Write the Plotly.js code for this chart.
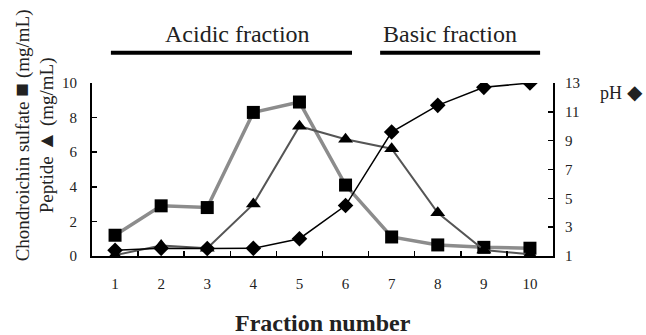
<!DOCTYPE html>
<html><head><meta charset="utf-8">
<script src="https://cdn.plot.ly/plotly-3.0.1.min.js"></script>
<style>html,body{margin:0;padding:0;background:#fff}</style>
</head><body><div id="chart" style="width:646px;height:335px"></div>
<script>
const fractions = [1,2,3,4,5,6,7,8,9,10];
const tickLabels = ['1','2','3','4','5','6','7','8','9','10'];
const chondroitin = [1.2, 2.9, 2.8, 8.3, 8.9, 4.1, 1.1, 0.64, 0.5, 0.45];
const peptide = [0.05, 0.6, 0.45, 3.0, 7.5, 6.75, 6.2, 2.5, 0.35, 0.1];
const pH = [1.4, 1.53, 1.52, 1.53, 2.2, 4.5, 9.6, 11.45, 12.7, 13.0];
const leftTicks = [0,2,4,6,8,10];
const rightTicks = [1,3,5,7,9,11,13];

const font = 'Liberation Serif, Times New Roman, serif';
const traces = [
  {x: fractions, y: chondroitin, mode:'lines+markers', name:'Chondroitin sulfate',
   line:{color:'#8c8c8c', width:3.5}, marker:{symbol:'square', size:13, color:'#000'}},
  {x: fractions, y: peptide, mode:'lines+markers', name:'Peptide',
   line:{color:'#555', width:2}, marker:{symbol:'triangle-up', size:13, color:'#000'}},
  {x: fractions, y: pH, mode:'lines+markers', name:'pH', yaxis:'y2',
   line:{color:'#000', width:1.5}, marker:{symbol:'diamond', size:12, color:'#000'}}
];
const layout = {
  width:646, height:335, showlegend:false,
  margin:{l:92, r:93, t:83, b:79},
  paper_bgcolor:'#fff', plot_bgcolor:'#fff',
  font:{family:font, size:15, color:'#222'},
  xaxis:{range:[0.5,10.5], tickmode:'array', tickvals:fractions, ticktext:tickLabels,
    ticks:'', showline:true, linecolor:'#000', linewidth:2, showgrid:false, zeroline:false,
    ticklabelstandoff:13,
    minor:{tickmode:'array', tickvals:[1.5,2.5,3.5,4.5,5.5,6.5,7.5,8.5,9.5], ticks:'inside', ticklen:5, tickwidth:1.5, tickcolor:'#000', showgrid:false}},
  yaxis:{range:[0,10], tickmode:'array', tickvals:leftTicks, ticks:'inside', ticklen:5, tickwidth:1.5,
    tickcolor:'#000', showline:true, linecolor:'#000', linewidth:2, showgrid:false, zeroline:false,
    ticklabelstandoff:10},
  yaxis2:{range:[1,13], overlaying:'y', side:'right', tickmode:'array', tickvals:rightTicks,
    ticks:'inside', ticklen:5, tickwidth:1.5, tickcolor:'#000', showline:true, linecolor:'#000',
    linewidth:2, showgrid:false, zeroline:false, ticklabelstandoff:7},
  shapes:[
    {type:'line', xref:'paper', yref:'paper', x0:0.041, x1:0.564, y0:1.175, y1:1.175, line:{color:'#000', width:4}},
    {type:'line', xref:'paper', yref:'paper', x0:0.625, x1:0.972, y0:1.175, y1:1.175, line:{color:'#000', width:4}}
  ],
  annotations:[
    {text:'Acidic fraction', xref:'paper', yref:'paper', x:0.315, y:1.283, xanchor:'center', yanchor:'middle', showarrow:false, font:{size:24, color:'#222'}},
    {text:'Basic fraction', xref:'paper', yref:'paper', x:0.777, y:1.283, xanchor:'center', yanchor:'middle', showarrow:false, font:{size:24, color:'#222'}},
    {text:'<b>Fraction number</b>', xref:'paper', yref:'paper', x:0.5, y:-0.387, xanchor:'center', yanchor:'middle', showarrow:false, font:{size:24, color:'#222'}},
    {text:'Chondroichin sulfate <span style="font-size:23px">■</span> (mg/mL)<br>Peptide <span style="font-size:21px">▲</span> (mg/mL)', xref:'paper', yref:'paper',
     x:-0.127, y:0.70, xanchor:'center', yanchor:'middle', textangle:-90, showarrow:false,
     font:{size:19, color:'#222'}},
    {text:'pH <span style="font-size:20px">◆</span>', xref:'paper', yref:'paper', x:1.097, y:0.948, xanchor:'left', yanchor:'middle', showarrow:false,
     font:{size:18, color:'#222'}}
  ]
};
Plotly.newPlot('chart', traces, layout, {displayModeBar:false, staticPlot:true});
</script></body></html>
